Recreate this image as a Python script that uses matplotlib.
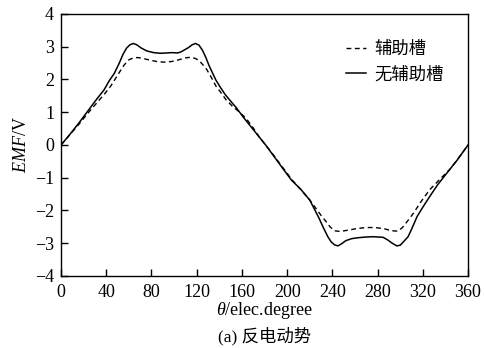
import matplotlib
matplotlib.use('Agg')
import matplotlib.pyplot as plt

plt.rcParams['font.family'] = ['Liberation Serif', 'Noto Sans CJK SC']
plt.rcParams['mathtext.fontset'] = 'custom'
plt.rcParams['mathtext.it'] = 'Liberation Serif:italic'
plt.rcParams['mathtext.rm'] = 'Liberation Serif'

# EMF with auxiliary slots (dashed)
x_aux = [0, 8, 16, 24, 32, 39, 44, 48, 52, 56, 60, 64, 68, 74, 80, 86, 92, 98, 104, 110, 115, 119, 122, 125,
         129, 133, 137, 141, 146, 152, 158, 164, 170, 175, 181,
         188, 196, 204, 212, 220, 226, 230, 234, 238, 242, 247, 254, 262, 270, 278, 286, 293, 298, 302,
         307, 312, 318, 326, 335, 344, 352, 360]
y_aux = [0, 0.32, 0.64, 0.98, 1.30, 1.58, 1.80, 2.02, 2.24, 2.45, 2.60, 2.66, 2.67, 2.63, 2.58, 2.54, 2.53, 2.55, 2.60, 2.66, 2.68, 2.64, 2.58, 2.47,
         2.30, 2.06, 1.80, 1.62, 1.38, 1.17, 1.00, 0.80, 0.52, 0.26, 0,
         -0.31, -0.68, -1.05, -1.36, -1.68, -1.96, -2.15, -2.32, -2.50, -2.62, -2.64, -2.60, -2.55, -2.52, -2.52, -2.56, -2.62, -2.63, -2.52,
         -2.30, -2.07, -1.75, -1.37, -1.05, -0.74, -0.38, 0]

# EMF without auxiliary slots (solid)
x_no = [0, 8, 16, 24, 32, 38, 43, 47, 51, 55, 58, 61, 64, 67, 71, 76, 82, 88, 93, 98, 103, 106, 109, 113, 116, 119, 122,
        125, 128, 131, 134, 137, 141, 145, 150, 155, 161, 167, 174, 181,
        188, 196, 204, 212, 220, 224, 228, 232, 236, 239, 242, 245, 248, 252, 257, 263, 270, 276, 281, 285, 289, 293, 297,
        300, 303, 307, 311, 315, 320, 326, 333, 341, 350, 360]
y_no = [0, 0.33, 0.68, 1.05, 1.42, 1.68, 1.98, 2.18, 2.46, 2.78, 2.96, 3.06, 3.10, 3.06, 2.96, 2.87, 2.82, 2.80, 2.81, 2.82, 2.81, 2.84, 2.90, 2.98, 3.06, 3.10, 3.05,
        2.90, 2.68, 2.42, 2.20, 1.98, 1.76, 1.55, 1.34, 1.14, 0.86, 0.60, 0.30, 0,
        -0.33, -0.71, -1.08, -1.35, -1.68, -1.95, -2.22, -2.52, -2.80, -2.96, -3.05, -3.08, -3.02, -2.92, -2.86, -2.83, -2.81, -2.80, -2.81, -2.82, -2.90, -3.00, -3.08,
        -3.06, -2.95, -2.80, -2.50, -2.18, -1.90, -1.58, -1.22, -0.87, -0.48, 0]

xticks = list(range(0, 361, 40))
yticks = list(range(-4, 5))

fig = plt.figure(figsize=(4.85, 3.48), dpi=100)
ax = fig.add_axes([0.1258, 0.2069, 0.8392, 0.7529])

ax.plot(x_aux, y_aux, color='black', linestyle=(0, (3.5, 2.5)), linewidth=1.0, label='辅助槽')
ax.plot(x_no, y_no, color='black', linestyle='-', linewidth=1.1, label='无辅助槽')

ax.set_xlim(0, 360)
ax.set_ylim(-4, 4)
ax.set_xticks(xticks)
ax.set_yticks(yticks)
ax.set_yticklabels([str(v).replace('-', '\u2212') for v in yticks])
ax.tick_params(direction='in', length=5, width=1, labelsize=13, top=False, right=False)
ax.tick_params(axis='x', pad=6)
ax.tick_params(axis='y', pad=5)
for s in ax.spines.values():
    s.set_linewidth(1.0)

ax.set_ylabel('$EMF$/V', fontsize=13)
ax.yaxis.set_label_coords(-0.097, 0.5)
ax.yaxis.label.set_va('center')
ax.set_xlabel(r'$\theta$/elec.degree', fontsize=13)
ax.xaxis.set_label_coords(0.5, -0.13)
ax.xaxis.label.set_va('center')

leg = ax.legend(loc='upper left', bbox_to_anchor=(0.678, 0.935), frameon=False, borderpad=0,
                prop={'family': ['Noto Sans CJK SC'], 'size': 12.5},
                handlelength=1.15, handletextpad=0.5, labelspacing=0.45)

fig.text(0.545, 0.035, '(a) 反电动势', ha='center', va='center', fontsize=12.5,
         family=['Liberation Serif', 'Noto Sans CJK SC'])

fig.savefig('out.png', dpi=100)
